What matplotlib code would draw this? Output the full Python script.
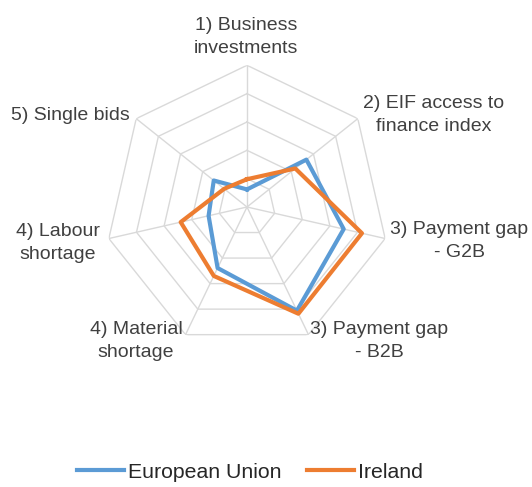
import numpy as np
import matplotlib
matplotlib.use('Agg')
import matplotlib.pyplot as plt

# data (rings 0..5)
labels = ['1) Business\ninvestments', '2) EIF access to\nfinance index', '3) Payment gap\n- G2B',
          '3) Payment gap\n- B2B', '4) Material\nshortage', '4) Labour\nshortage', '5) Single bids']
eu = [0.62, 2.68, 3.5, 4.06, 2.39, 1.39, 1.5]
ireland = [0.98, 2.18, 4.16, 4.18, 2.7, 2.4, 1.03]
series_names = ['European Union', 'Ireland']

# label centres in pixels (from top-left)
label_pos = [(246, 37), (434, 115), (459, 241), (379, 341), (136, 341), (58, 243), (70, 115)]

W, H = 532, 487
plt.rcParams['font.family'] = ['Liberation Sans', 'DejaVu Sans']
fig = plt.figure(figsize=(W / 100, H / 100), dpi=100)

cx, cy, R = 247, 207, 141.7
ax = fig.add_axes([(cx - R) / W, 1 - (cy + R) / H, 2 * R / W, 2 * R / H], projection='polar')
ax.set_theta_offset(np.pi / 2)
ax.set_theta_direction(-1)
ax.set_ylim(0, 5)
ax.grid(False)
ax.set_xticks([])
ax.set_yticks([])
ax.spines['polar'].set_visible(False)

n = len(labels)
ang = np.linspace(0, 2 * np.pi, n, endpoint=False)
ang_c = np.append(ang, ang[0])

grid_c = '#d9d9d9'
for r in range(1, 6):
    ax.plot(ang_c, [r] * (n + 1), color=grid_c, lw=1, zorder=1)
for a in ang:
    ax.plot([a, a], [0, 5], color=grid_c, lw=1, zorder=1)

blue = '#5b9bd5'
orange = '#ed7d31'
ax.plot(ang_c, eu + eu[:1], color=blue, lw=3, label=series_names[0], zorder=3)
ax.plot(ang_c, ireland + ireland[:1], color=orange, lw=3, label=series_names[1], zorder=4)

for txt, (px, py) in zip(labels, label_pos):
    fig.text(px / W, 1 - py / H, txt, ha='center', va='center', multialignment='center',
             fontsize=14, color='#404040', linespacing=1.4)

fig.legend(loc='center', bbox_to_anchor=(250 / W, 1 - 472 / H), ncol=2, frameon=False,
           fontsize=15.3, handlelength=2.2, handletextpad=0.2, columnspacing=1.2,
           labelcolor='#262626')

fig.savefig('out.png', dpi=100)
